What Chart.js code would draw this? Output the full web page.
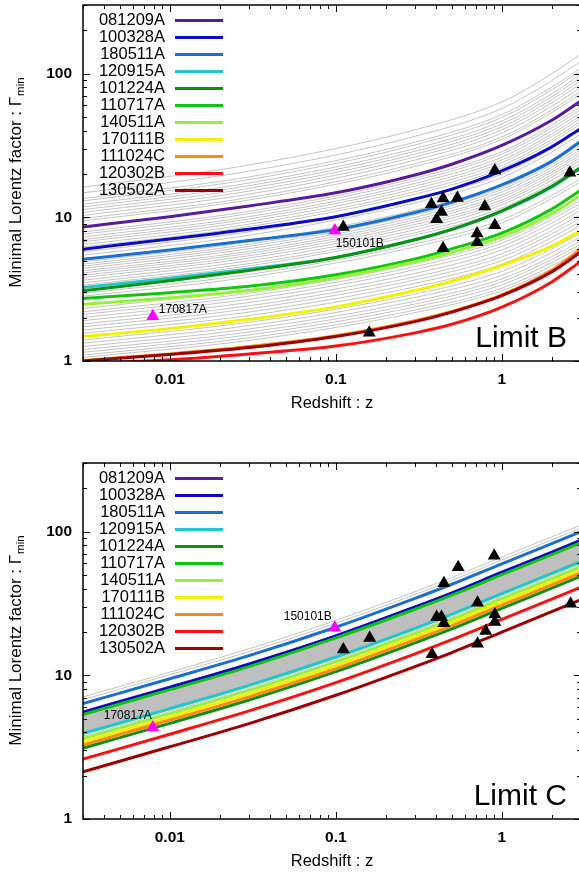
<!DOCTYPE html>
<html>
<head>
<meta charset="utf-8">
<script src="https://cdn.jsdelivr.net/npm/chart.js@4.4.1/dist/chart.umd.min.js"></script>
<style>
html, body { margin: 0; padding: 0; background: #fff; overflow: hidden; }
#wrap { position: relative; width: 579px; height: 874px; overflow: hidden; }
canvas { position: absolute; left: 0; }
#limitB { top: 0; }
#limitC { top: 437px; }
</style>
</head>
<body>
<div id="wrap">
<canvas id="limitB" width="584" height="437"></canvas>
<canvas id="limitC" width="584" height="437"></canvas>
</div>
<script>
// GRBs of the legend (plot order)
const grbNames = ['081209A', '100328A', '180511A', '120915A', '101224A', '110717A', '140511A', '170111B', '111024C', '120302B', '130502A']
const grbColors = ['#5a1a9c', '#0a0ac8', '#1a6fd0', '#22c8c8', '#109010', '#12c412', '#98f03c', '#f2f200', '#ff8a10', '#ff1010', '#9c0000']

const zFine = [0.003, 0.01, 0.03, 0.1, 0.3, 0.5, 1, 2, 3]
const zGray = [0.003, 0.03, 0.3, 1, 2, 3]

// Limit B : Gamma_min of the coloured GRBs at zFine
const curvesB = [
  [8.57, 10.1, 12.0, 14.8, 19.7, 23.4, 31.6, 47.3, 64.6],
  [6.0, 7.05, 8.26, 10.1, 13.4, 15.7, 21.0, 30.9, 41.7],
  [5.1, 5.92, 6.89, 8.22, 10.8, 12.7, 16.8, 24.5, 33.9],
  [3.25, 3.76, 4.37, 5.25, 7.0, 8.22, 11.0, 16.2, 22.1],
  [3.08, 3.62, 4.27, 5.25, 6.97, 8.24, 11.1, 16.4, 22.3],
  [2.72, 2.99, 3.31, 3.98, 5.13, 6.03, 7.76, 11.4, 15.5],
  [2.48, 2.75, 3.09, 3.8, 4.9, 5.69, 7.33, 10.6, 14.3],
  [1.48, 1.68, 1.95, 2.38, 3.09, 3.59, 4.62, 6.31, 8.04],
  [1.01, 1.12, 1.26, 1.5, 1.91, 2.21, 2.88, 4.27, 6.03],
  [0.955, 1.02, 1.12, 1.27, 1.57, 1.8, 2.37, 3.55, 4.95],
  [1.0, 1.11, 1.24, 1.48, 1.88, 2.19, 2.85, 4.17, 5.75]
]

// Limit B : the other GRBs (grey), at zGray
const grayB = [
  [16.2, 23.1, 40.6, 63.5, 99.5, 137], [14.8, 20.9, 36.6, 57.1, 89.3, 122], [13.5, 19.1, 33.3, 51.8, 80.5, 110],
  [13.0, 18.3, 31.9, 49.5, 77.1, 105], [12.3, 17.3, 30.1, 46.7, 72.4, 98.9], [11.8, 16.6, 28.8, 44.6, 69.2, 94.2],
  [11.3, 15.9, 27.5, 42.5, 65.8, 89.5], [10.8, 15.2, 26.3, 40.6, 62.7, 85.3], [10.3, 14.5, 25.0, 38.5, 59.3, 80.5],
  [9.8, 13.7, 23.6, 36.2, 55.8, 75.7], [9.42, 13.2, 22.6, 34.8, 53.5, 72.4], [7.91, 11.0, 18.7, 28.6, 43.7, 59.0],
  [7.62, 10.6, 18.0, 27.5, 41.9, 56.5], [7.29, 10.1, 17.2, 26.2, 39.9, 53.7], [7.0, 9.73, 16.5, 25.0, 38.0, 51.2],
  [6.75, 9.35, 15.8, 24.0, 36.5, 49.0], [6.46, 8.95, 15.1, 22.9, 34.7, 46.6], [6.22, 8.61, 14.5, 21.9, 33.3, 44.6],
  [5.74, 7.93, 13.3, 20.0, 30.3, 40.6], [5.45, 7.5, 12.6, 18.9, 28.5, 38.1], [4.9, 6.73, 11.2, 16.8, 25.2, 33.7],
  [4.72, 6.49, 10.8, 16.1, 24.3, 32.3], [4.57, 6.27, 10.4, 15.6, 23.3, 31.0], [4.41, 6.04, 10.0, 15.0, 22.3, 29.7],
  [4.24, 5.8, 9.62, 14.3, 21.4, 28.4], [4.1, 5.61, 9.27, 13.8, 20.6, 27.4], [3.95, 5.4, 8.91, 13.2, 19.8, 26.2],
  [3.81, 5.2, 8.57, 12.7, 19.0, 25.1], [3.65, 4.98, 8.18, 12.2, 18.1, 23.9], [3.5, 4.76, 7.82, 11.6, 17.2, 22.7],
  [3.37, 4.59, 7.52, 11.1, 16.5, 21.8], [2.95, 4.0, 6.52, 9.6, 14.2, 18.6], [2.82, 3.83, 6.22, 9.14, 13.5, 17.7],
  [2.32, 3.13, 5.04, 7.35, 10.7, 14.1], [2.2, 2.96, 4.76, 6.93, 10.1, 13.2], [2.11, 2.83, 4.54, 6.61, 9.64, 12.6],
  [2.01, 2.69, 4.32, 6.27, 9.12, 11.9], [1.91, 2.55, 4.07, 5.92, 8.59, 11.2], [1.81, 2.42, 3.85, 5.57, 8.07, 10.5],
  [1.73, 2.31, 3.67, 5.3, 7.67, 9.95], [1.64, 2.19, 3.47, 5.0, 7.23, 9.38], [1.56, 2.07, 3.28, 4.72, 6.81, 8.81],
  [1.4, 1.86, 2.92, 4.2, 6.03, 7.78], [1.33, 1.76, 2.77, 3.95, 5.68, 7.31], [1.26, 1.67, 2.61, 3.73, 5.33, 6.87],
  [1.2, 1.59, 2.49, 3.56, 5.08, 6.53], [1.15, 1.52, 2.38, 3.39, 4.84, 6.22], [1.1, 1.45, 2.26, 3.21, 4.58, 5.87],
  [1.06, 1.39, 2.17, 3.08, 4.38, 5.61]
]

// Limit C : Gamma_min of the coloured GRBs at zFine
const curvesC = [
  [5.55, 8.26, 12.0, 18.8, 29.9, 37.5, 52.1, 71.9, 87.3],
  [5.51, 8.2, 11.9, 18.7, 29.7, 37.2, 51.8, 71.4, 86.7],
  [6.35, 9.46, 13.7, 21.6, 34.3, 43.0, 59.7, 82.4, 100],
  [3.94, 5.86, 8.51, 13.4, 21.2, 26.6, 37.0, 51.1, 61.9],
  [3.11, 4.63, 6.73, 10.6, 16.8, 21.0, 29.2, 40.4, 49.0],
  [5.33, 7.94, 11.5, 18.2, 28.8, 36.1, 50.1, 69.2, 83.9],
  [3.63, 5.41, 7.85, 12.4, 19.6, 24.5, 34.1, 47.1, 57.1],
  [3.44, 5.13, 7.45, 11.7, 18.6, 23.3, 32.4, 44.7, 54.2],
  [3.27, 4.88, 7.08, 11.1, 17.7, 22.1, 30.8, 42.5, 51.5],
  [2.61, 3.89, 5.65, 8.89, 14.1, 17.7, 24.5, 33.9, 41.1],
  [2.13, 3.18, 4.61, 7.26, 11.5, 14.4, 20.0, 27.7, 33.6]
]

// Limit C : grey GRBs at zFine (the dense ones form a band)
const grayC = [
  [7.08, 10.5, 15.3, 24.1, 38.2, 47.9, 66.5, 91.8, 111],
  [6.76, 10.1, 14.6, 23.0, 36.5, 45.7, 63.5, 87.7, 106],
  [3.85, 5.73, 8.32, 13.1, 20.7, 26.0, 36.1, 49.9, 60.5],
  [3.76, 5.6, 8.13, 12.8, 20.3, 25.4, 35.3, 48.8, 59.2]
]
const bandTopC = [5.27, 7.85, 11.4, 17.9, 28.4, 35.6, 49.5, 68.4, 83.0]
const bandBottomC = [3.98, 5.93, 8.61, 13.6, 21.5, 26.9, 37.4, 51.6, 62.7]

// observed GRBs (black) and GW-associated GRBs (magenta)
const obsZB = [0.908, 2.57, 0.377, 0.443, 0.54, 0.79, 0.433, 0.405, 0.111, 0.908, 0.71, 0.71, 0.443, 0.159]
const obsGB = [21.2, 20.4, 12.3, 13.5, 13.6, 11.9, 10.9, 9.7, 8.57, 8.8, 7.7, 6.7, 6.1, 1.57]
const obsZC = [0.90, 0.546, 0.448, 0.714, 0.405, 0.433, 0.448, 0.908, 0.908, 0.16, 0.111, 0.80, 0.714, 2.6, 0.38]
const obsGC = [68, 56.5, 43.7, 32, 25.4, 25.4, 23, 26.5, 23.5, 18.2, 15.1, 20.3, 16.6, 31.5, 14]
const magNames = ['170817A', '150101B']
const magZ = [0.0079, 0.0986]
const magGB = [2.05, 8.1]
const magGC = [4.33, 21.4]

// axes
const xTickValues = [0.01, 0.1, 1]
const xTickText = ['0.01', '0.1', '1']
const yTickValues = [1, 10, 100]
const yTickText = ['1', '10', '100']

const FONT = '"Liberation Sans", Arial, Helvetica, sans-serif'
Chart.defaults.font.family = FONT
Chart.defaults.color = '#000'

const pts = (zs, gs) => zs.map((z, i) => ({ x: z, y: gs[i] }))

const minorTicks = (lo, hi, majors) => {
  const out = []
  for (let d = Math.floor(Math.log10(lo)); d <= Math.ceil(Math.log10(hi)); d++) {
    for (let m = 1; m < 10; m++) {
      const v = +(m * Math.pow(10, d)).toPrecision(3)
      if (v >= lo && v <= hi && !majors.includes(v)) out.push(v)
    }
  }
  return out
}

const panelDeco = {
  id: 'panelDeco',
  afterDatasetsDraw(chart, args, o) {
    const { ctx, chartArea: a, scales: { x, y } } = chart
    ctx.save()
    ctx.strokeStyle = '#000'
    ctx.lineWidth = 1.5
    ctx.strokeRect(a.left, a.top, a.right - a.left, a.bottom - a.top)

    // inward ticks on all four sides
    ctx.lineWidth = 1
    ctx.beginPath()
    const xm = minorTicks(x.min, x.max, xTickValues)
    xTickValues.concat(xm).forEach(v => {
      const px = Math.round(x.getPixelForValue(v)) + 0.5
      const len = xTickValues.includes(v) ? 7 : 4
      ctx.moveTo(px, a.bottom); ctx.lineTo(px, a.bottom - len)
      ctx.moveTo(px, a.top); ctx.lineTo(px, a.top + len)
    })
    const ym = minorTicks(y.min, y.max, yTickValues)
    yTickValues.concat(ym).forEach(v => {
      const py = Math.round(y.getPixelForValue(v)) + 0.5
      const len = yTickValues.includes(v) ? 7 : 4
      ctx.moveTo(a.left, py); ctx.lineTo(a.left + len, py)
      ctx.moveTo(a.right, py); ctx.lineTo(a.right - len, py)
    })
    ctx.stroke()

    // key
    ctx.font = '16.5px ' + FONT
    ctx.textAlign = 'right'
    ctx.textBaseline = 'middle'
    ctx.fillStyle = '#000'
    grbNames.forEach((n, i) => {
      const ly = a.top + 15.5 + 17 * i
      ctx.fillText(n, 165, ly)
      ctx.strokeStyle = grbColors[i]
      ctx.lineWidth = 3
      ctx.beginPath()
      ctx.moveTo(175, ly)
      ctx.lineTo(223, ly)
      ctx.stroke()
    })

    // labels of the magenta points
    ctx.font = '12px ' + FONT
    o.magG.forEach((g, i) => {
      const px = x.getPixelForValue(magZ[i])
      const py = y.getPixelForValue(g)
      const p = o.labelPlace[i]
      ctx.textAlign = p.align
      ctx.fillText(magNames[i], px + p.dx, py + p.dy)
    })

    // panel name
    ctx.font = '30px ' + FONT
    ctx.textAlign = 'right'
    ctx.textBaseline = 'alphabetic'
    ctx.fillText(o.name, 567, a.bottom - 14)

    // axis titles
    ctx.font = '16.5px ' + FONT
    ctx.textAlign = 'center'
    ctx.textBaseline = 'middle'
    ctx.fillText('Redshift : z', (a.left + a.right) / 2, a.bottom + 42)

    ctx.translate(16, (a.top + a.bottom) / 2)
    ctx.rotate(-Math.PI / 2)
    ctx.font = '17px ' + FONT
    const main = 'Minimal Lorentz factor : Γ'
    const wMain = ctx.measureText(main).width
    ctx.font = '11.5px ' + FONT
    const wSub = ctx.measureText('min').width
    const x0 = -(wMain + wSub) / 2
    ctx.textAlign = 'left'
    ctx.font = '17px ' + FONT
    ctx.fillText(main, x0, 0)
    ctx.font = '11.5px ' + FONT
    ctx.fillText('min', x0 + wMain + 1, 5)
    ctx.restore()
  }
}

function makePanel(canvasId, p) {
  const datasets = []
  datasets.push({
    data: pts(p.obsZ, p.obsG), showLine: false, pointStyle: 'triangle', pointRadius: 7.5,
    pointBackgroundColor: '#000', pointBorderWidth: 0, order: 0
  })
  datasets.push({
    data: pts(magZ, p.magG), showLine: false, pointStyle: 'triangle', pointRadius: 7.5,
    pointBackgroundColor: '#ff00ff', pointBorderWidth: 0, order: 1
  })
  grbNames.forEach((name, i) => {
    datasets.push({
      label: name, data: pts(zFine, p.curves[i]), borderColor: grbColors[i], borderWidth: 3,
      pointRadius: 0, cubicInterpolationMode: 'monotone', order: 20 - i
    })
  })
  if (p.band) {
    const top = datasets.length
    datasets.push({ data: pts(zFine, p.band[0]), borderColor: '#bdbdbd', borderWidth: 1, pointRadius: 0, cubicInterpolationMode: 'monotone', order: 40 })
    datasets.push({ data: pts(zFine, p.band[1]), borderColor: '#bdbdbd', borderWidth: 1, pointRadius: 0, cubicInterpolationMode: 'monotone', fill: top, backgroundColor: '#bfbfbf', order: 41 })
  }
  p.gray.forEach(g => {
    datasets.push({
      data: pts(p.grayZ, g), borderColor: '#c4c4c4', borderWidth: 1, pointRadius: 0,
      cubicInterpolationMode: 'monotone', order: 50
    })
  })

  const canvas = document.getElementById(canvasId)
  const plotBottom = p.top + 356
  return new Chart(canvas, {
    type: 'line',
    data: { datasets },
    plugins: [panelDeco],
    options: {
      responsive: false,
      animation: false,
      events: [],
      layout: { autoPadding: false, padding: { top: p.top, left: 0, right: 3, bottom: 0 } },
      plugins: {
        legend: { display: false },
        tooltip: { enabled: false },
        panelDeco: { name: p.name, magG: p.magG, labelPlace: p.labelPlace }
      },
      scales: {
        x: {
          type: 'logarithmic', min: 0.003, max: 3,
          grid: { display: false, drawTicks: false },
          border: { display: false },
          afterFit: s => {
            s.height = canvas.height - plotBottom
            s.paddingLeft = 0; s.paddingRight = 0
          },
          afterBuildTicks: s => { s.ticks = xTickValues.map(v => ({ value: v })) },
          ticks: {
            autoSkip: false, maxRotation: 0, padding: 9,
            font: { size: 15.5, weight: 'bold' },
            callback: v => xTickText[xTickValues.indexOf(v)] ?? ''
          }
        },
        y: {
          type: 'logarithmic', min: 1, max: 300,
          grid: { display: false, drawTicks: false },
          border: { display: false },
          afterFit: s => {
            s.width = 83
            s.paddingTop = 0; s.paddingBottom = 0
          },
          afterBuildTicks: s => { s.ticks = yTickValues.map(v => ({ value: v })) },
          ticks: {
            autoSkip: false, padding: 11,
            font: { size: 15.5, weight: 'bold' },
            callback: v => yTickText[yTickValues.indexOf(v)] ?? ''
          }
        }
      }
    }
  })
}

makePanel('limitB', {
  name: 'Limit B', top: 5, curves: curvesB, gray: grayB, grayZ: zGray,
  obsZ: obsZB, obsG: obsGB, magG: magGB,
  labelPlace: [{ align: 'left', dx: 6, dy: -7 }, { align: 'left', dx: 1, dy: 13 }]
})

makePanel('limitC', {
  name: 'Limit C', top: 26, curves: curvesC, gray: grayC, grayZ: zFine,
  band: [bandTopC, bandBottomC],
  obsZ: obsZC, obsG: obsGC, magG: magGC,
  labelPlace: [{ align: 'right', dx: -1, dy: -12 }, { align: 'right', dx: -3, dy: -11 }]
})
</script>
</body>
</html>
